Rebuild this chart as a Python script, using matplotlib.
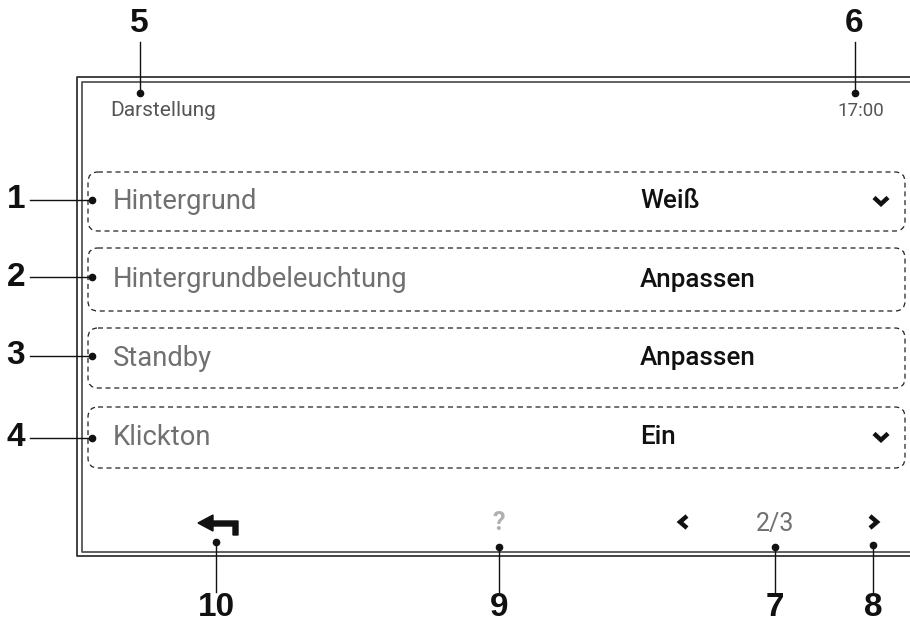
import matplotlib.pyplot as plt
from matplotlib.patches import FancyBboxPatch, Polygon

# screen content
title = "Darstellung"
clock = "17:00"
rows = ["Hintergrund", "Hintergrundbeleuchtung", "Standby", "Klickton"]
values = ["Weiß", "Anpassen", "Anpassen", "Ein"]
has_dropdown = [True, False, False, True]
page = "2/3"

# callouts: label, dot position, label position
left_calls = ["1", "2", "3", "4"]
left_call_y = [200, 277, 356, 438]
top_calls = ["5", "6"]
top_call_x = [140, 855]
bottom_calls = ["10", "9", "7", "8"]
bottom_call_x = [216, 499, 775, 873]
bottom_dot_y = [542, 547, 547, 545]

box_top = [172, 248, 328, 407]
box_bot = [231, 311, 388, 468]

fig = plt.figure(figsize=(9.1, 6.3), dpi=100)
ax = fig.add_axes([0, 0, 1, 1])
ax.set_xlim(0, 910)
ax.set_ylim(630, 0)
ax.axis("off")

ui = ["Roboto", "DejaVu Sans"]
num = ["Liberation Sans", "DejaVu Sans"]

# frame (double line, open on the right)
ax.plot([910, 77, 77, 910], [77, 77, 556, 556], color="#333333", lw=1.3)
ax.plot([910, 82, 82, 910], [82, 82, 552, 552], color="#555555", lw=1.3)

ax.text(110, 111, title, fontsize=15, color="#555555", family=ui, va="center")
ax.text(884, 111, clock, fontsize=13.5, color="#555555", family=ui, va="center", ha="right")

for i, name in enumerate(rows):
    y0, y1 = box_top[i], box_bot[i]
    box = FancyBboxPatch((88, y0), 905 - 88, y1 - y0,
                         boxstyle="round,pad=0,rounding_size=10",
                         fill=False, ec="#222222", lw=0.9, ls=(0, (4, 3)))
    ax.add_patch(box)
    yc = (y0 + y1) / 2
    ax.text(113, yc, name, fontsize=19.7, color="#707070", family=ui, va="center")
    ax.text(640, yc, values[i], fontsize=18.7, color="#111111", family=ui,
            va="center", weight="medium")
    if has_dropdown[i]:
        ax.plot([874, 881, 888], [yc - 4, yc + 2.5, yc - 4], color="#111111",
                lw=3.2, solid_capstyle="butt", solid_joinstyle="miter")

# bottom bar
arrow = Polygon([(198, 523), (213, 515), (213, 521), (238, 521), (238, 535),
                 (233, 535), (233, 526), (213, 526), (213, 531)],
                closed=True, color="#111111")
ax.add_patch(arrow)
ax.text(499, 523, "?", fontsize=18, color="#b0b0b0", family=ui, ha="center",
        va="center", weight="bold")
ax.plot([687, 680, 687], [516, 522, 528], color="#111111", lw=3.2,
        solid_capstyle="butt", solid_joinstyle="miter")
ax.plot([870, 877, 870], [516, 522, 528], color="#111111", lw=3.2,
        solid_capstyle="butt", solid_joinstyle="miter")
ax.text(775, 524, page, fontsize=18, color="#707070", family=ui,
        ha="center", va="center")

# callouts
for lab, y in zip(left_calls, left_call_y):
    ax.text(16, y, lab, fontsize=24, weight="bold", family=num,
            ha="center", va="center", color="#111111")
    ax.plot([30, 92], [y, y], color="#111111", lw=1.0)
    ax.plot(92, y, "o", color="#111111", ms=4.5)

for lab, x in zip(top_calls, top_call_x):
    ax.text(x - 1, 24, lab, fontsize=24, weight="bold", family=num,
            ha="center", va="center", color="#111111")
    ax.plot([x, x], [42, 93], color="#111111", lw=1.0)
    ax.plot(x, 93, "o", color="#111111", ms=4.5)

for lab, x, yd in zip(bottom_calls, bottom_call_x, bottom_dot_y):
    ax.text(x, 607, lab, fontsize=24, weight="bold", family=num,
            ha="center", va="center", color="#111111")
    ax.plot([x, x], [yd, 592], color="#111111", lw=1.0)
    ax.plot(x, yd, "o", color="#111111", ms=4.5)

fig.savefig("out.png", dpi=100, facecolor="white")
